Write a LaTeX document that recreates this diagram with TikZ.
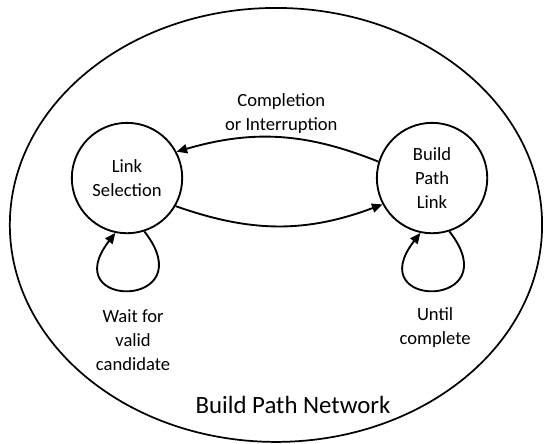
\documentclass[tikz,border=0pt]{standalone}
\usepackage{fontspec}
\setmainfont{Carlito}
\usepackage{tikz}
\usetikzlibrary{shapes.geometric, arrows.meta, positioning}

\begin{document}
\begin{tikzpicture}[
  state/.style={circle, draw=black, line width=1.4pt, minimum size=2.92cm, inner sep=0pt, font=\fontsize{14}{18}\selectfont, align=center},
  lbl/.style={font=\fontsize{14}{18}\selectfont, align=center, inner sep=0pt},
  trans/.style={line width=1.4pt, -{Triangle[length=2.8mm, width=2.4mm]}},
  selfloop/.style={trans, out=-52, in=-128, distance=2.6cm}
]
\useasboundingbox (0,0) rectangle (14.39,11.72);
% outer network
\node[ellipse, draw=black, line width=1.3pt, minimum width=14.08cm, minimum height=11.48cm, inner sep=0pt] (net) at (7.30,5.77) {};
\node[lbl, font=\fontsize{18.7}{22}\selectfont] (netlbl) at (7.75,1.01) {Build Path Network};
% states
\node[state] (ls) at (3.36,7.01) {Link\\Selection};
\node[state, right=5.1cm of ls] (bpl) {Build\\Path\\Link};
% transitions
\draw[trans] (bpl.163) to[bend right=19] (ls.28);
\draw[trans] (ls.-30) to[bend right=20] (bpl.208);
\draw[selfloop] (ls.-72) to (ls.-102);
\draw[selfloop] (bpl.-72) to (bpl.-102);
% labels
\node[lbl] (cmp) at (7.44,8.72) {Completion\\or Interruption};
\node[lbl] (wait) at (3.52,2.72) {Wait for\\valid\\candidate};
\node[lbl] (until) at (11.51,3.05) {Until\\complete};
\end{tikzpicture}
\end{document}
